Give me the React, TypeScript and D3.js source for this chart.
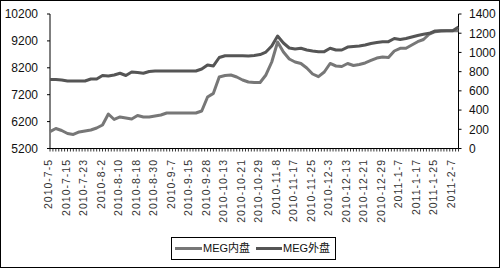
import React from "react";
import * as d3 from "d3";

// x-axis category labels (every 6th trading day)
const xLabels = [
  "2010-7-5", "2010-7-15", "2010-7-23", "2010-8-2", "2010-8-10", "2010-8-18",
  "2010-8-30", "2010-9-7", "2010-9-15", "2010-9-28", "2010-10-13", "2010-10-21",
  "2010-10-29", "2010-11-8", "2010-11-17", "2010-11-25", "2010-12-3", "2010-12-13",
  "2010-12-21", "2010-12-29", "2011-1-7", "2011-1-17", "2011-1-25", "2011-2-7",
];

// MEG内盘 (RMB/t, left axis), sampled every 2 trading days
const megDomestic = [
  5825, 5944, 5870, 5758, 5721, 5814, 5851, 5888, 5963, 6074,
  6483, 6279, 6372, 6334, 6297, 6427, 6372, 6372, 6409, 6446,
  6520, 6520, 6520, 6520, 6520, 6520, 6595, 7115, 7250, 7858,
  7914, 7933, 7858, 7747, 7672, 7654, 7654, 7933, 8416, 9159,
  8788, 8527, 8416, 8360, 8193, 7970, 7869, 8044, 8360, 8267,
  8249, 8360, 8286, 8323, 8379, 8472, 8564, 8602, 8583, 8825,
  8925, 8925, 9048, 9170, 9252, 9457, 9542, 9568, 9579, 9579,
  9579,
];

// MEG外盘 (USD/t, right axis)
const megForeign = [
  718, 718, 713, 703, 703, 703, 703, 723, 723, 760,
  755, 765, 783, 760, 796, 791, 783, 801, 807, 807,
  807, 807, 807, 807, 807, 807, 827, 869, 859, 947,
  966, 966, 966, 966, 963, 968, 978, 1004, 1067, 1171,
  1098, 1046, 1036, 1043, 1025, 1015, 1008, 1008, 1043, 1025,
  1025, 1056, 1062, 1067, 1077, 1093, 1103, 1112, 1112, 1145,
  1135, 1145, 1161, 1176, 1189, 1199, 1223, 1226, 1226, 1226,
  1265,
];

const leftTicks = [5200, 6200, 7200, 8200, 9200, 10200];
const rightTicks = [0, 200, 400, 600, 800, 1000, 1200, 1400];
const seriesNames = ["MEG内盘", "MEG外盘"];

const W = 500;
const H = 268;
const X0 = 50;
const X1 = 458.5;
const Y0 = 14;
const Y1 = 148.5;
const FONT = "'Liberation Sans', Arial, 'Noto Sans CJK SC', sans-serif";
const C_DOM = "#777777";
const C_FOR = "#555555";

export default function App() {
  const n = megDomestic.length;
  const x = d3.scaleLinear().domain([0, n - 1]).range([X0, X1]);
  const yL = d3.scaleLinear().domain([5200, 10200]).range([Y1, Y0]);
  const yR = d3.scaleLinear().domain([0, 1400]).range([Y1, Y0]);

  const lineL = d3.line<number>().x((_, i) => x(i)).y((d) => yL(d));
  const lineR = d3.line<number>().x((_, i) => x(i)).y((d) => yR(d));

  const minorTicks = d3.range(0, n - 0.5, 0.5);

  return (
    <svg
      width={W}
      height={H}
      style={{ position: "absolute", left: 0, top: 0, background: "#fff" }}
      fontFamily={FONT}
    >
      <rect x={0.5} y={0.5} width={W - 1} height={H - 1} fill="#fff" stroke="#000" />

      {/* left axis */}
      <line x1={X0} x2={X0} y1={Y0} y2={Y1} stroke="#000" />
      {leftTicks.map((t) => (
        <g key={"l" + t}>
          <line x1={X0 - 3} x2={X0} y1={yL(t)} y2={yL(t)} stroke="#000" />
          <text x={38} y={yL(t)} dy="0.36em" textAnchor="end" fontSize={12} fill="#111">
            {t}
          </text>
        </g>
      ))}

      {/* right axis */}
      <line x1={X1} x2={X1} y1={Y0} y2={Y1} stroke="#000" />
      {rightTicks.map((t) => (
        <g key={"r" + t}>
          <line x1={X1} x2={X1 + 3} y1={yR(t)} y2={yR(t)} stroke="#000" />
          <text x={469} y={yR(t)} dy="0.36em" textAnchor="start" fontSize={12} fill="#111">
            {t}
          </text>
        </g>
      ))}

      {/* bottom axis */}
      <line x1={X0} x2={X1} y1={Y1} y2={Y1} stroke="#000" />
      {minorTicks.map((t) => (
        <line key={"b" + t} x1={x(t)} x2={x(t)} y1={Y1} y2={Y1 + 3} stroke="#000" strokeWidth={0.8} />
      ))}
      {xLabels.map((lab, k) => {
        const px = x(k * 3) - 1.5;
        return (
          <text
            key={lab}
            transform={`translate(${px},159) rotate(-90)`}
            textAnchor="end"
            dy="0.35em"
            fontSize={10.5}
            letterSpacing={1}
            fill="#333"
          >
            {lab}
          </text>
        );
      })}

      {/* series */}
      <path d={lineL(megDomestic) || ""} fill="none" stroke={C_DOM} strokeWidth={3} strokeLinejoin="round" />
      <path d={lineR(megForeign) || ""} fill="none" stroke={C_FOR} strokeWidth={3} strokeLinejoin="round" />

      {/* legend */}
      <rect x={171.5} y={237.5} width={164} height={22} fill="#fff" stroke="#000" />
      <line x1={175} x2={202} y1={248.5} y2={248.5} stroke={C_DOM} strokeWidth={3} />
      <text x={203} y={248.5} dy="0.36em" fontSize={11} fill="#111">
        {seriesNames[0]}
      </text>
      <line x1={256} x2={282} y1={248.5} y2={248.5} stroke={C_FOR} strokeWidth={3} />
      <text x={283} y={248.5} dy="0.36em" fontSize={11} fill="#111">
        {seriesNames[1]}
      </text>
    </svg>
  );
}
